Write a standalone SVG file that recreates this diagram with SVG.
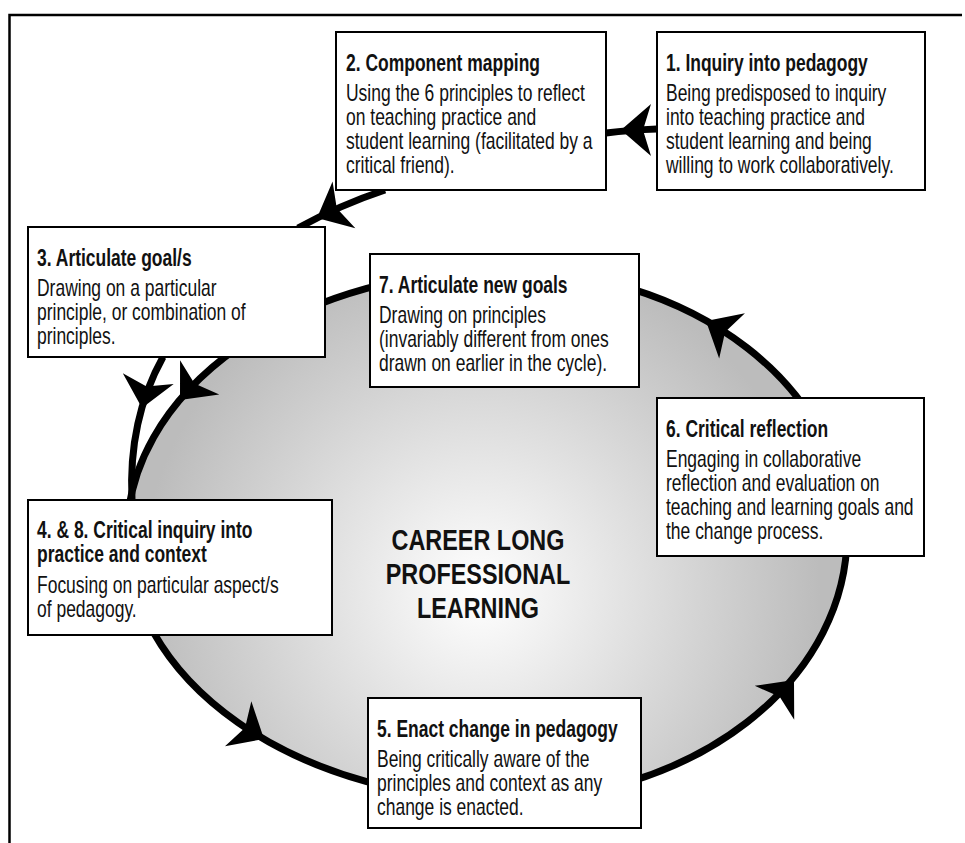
<svg xmlns="http://www.w3.org/2000/svg" xmlns:xlink="http://www.w3.org/1999/xlink" width="965" height="843" viewBox="0 0 965 843">
<style>
.box{fill:#fff;stroke:#000;stroke-width:2}
.t{font-family:"Liberation Sans",Arial,sans-serif;font-size:23px;fill:#111}
.b{font-weight:bold}
.c{font-family:"Liberation Sans",Arial,sans-serif;font-size:30px;font-weight:bold;fill:#111;text-anchor:middle}
.con{fill:none;stroke:#000;stroke-width:7}
.frame{stroke:#000;stroke-width:2.5;fill:none}
</style>
<defs>
<radialGradient id="g" gradientUnits="userSpaceOnUse" cx="480" cy="590" r="340">
<stop offset="0" stop-color="#ffffff"/>
<stop offset="0.12" stop-color="#f7f7f7"/>
<stop offset="1" stop-color="#bcbcbc"/>
</radialGradient>
<path id="ah" d="M0,0 L-30,-26 L-22,0 L-30,26 Z" fill="#000"/>
</defs>
<rect width="965" height="843" fill="#fff"/>
<g id="frame">
<path class="frame" d="M9.5,843 L9.5,15 L962,15"/>
</g>
<g id="cycle">
<path d="M505,270 A378,265 0 0 0 505,800 A342,265 0 0 0 505,270 Z" fill="url(#g)" stroke="#000" stroke-width="7"/>
<g transform="translate(478,0) scale(0.78,1)">
<text class="c" x="0" y="550">CAREER LONG</text>
<text class="c" x="0" y="584">PROFESSIONAL</text>
<text class="c" x="0" y="618">LEARNING</text>
</g>
</g>
<g id="connectors">
<path class="con" d="M657,129 Q630,130 606,133"/>
<path class="con" d="M385,190 Q340,205 298,228"/>
<path class="con" d="M163,357 Q128,420 132,500"/>
<use xlink:href="#ah" transform="translate(621,130) rotate(180)"/>
<use xlink:href="#ah" transform="translate(317,218) rotate(154)"/>
<use xlink:href="#ah" transform="translate(142,408) rotate(102)"/>
<use xlink:href="#ah" transform="translate(180,400) rotate(131)"/>
<use xlink:href="#ah" transform="translate(264,739) rotate(30.5)"/>
<use xlink:href="#ah" transform="translate(794,680) rotate(-49.4)"/>
<use xlink:href="#ah" transform="translate(706,321) rotate(209.7)"/>
</g>
<g id="n2">
<rect class="box" x="336" y="32" width="270" height="158"/>
<g transform="translate(346,0) scale(0.76,1)">
<text class="t b" x="0" y="71">2. Component mapping</text>
<text class="t" x="0" y="101">Using the 6 principles to reflect</text>
<text class="t" x="0" y="125">on teaching practice and</text>
<text class="t" x="0" y="149">student learning (facilitated by a</text>
<text class="t" x="0" y="173">critical friend).</text>
</g>
</g>
<g id="n1">
<rect class="box" x="657" y="32" width="268" height="158"/>
<g transform="translate(666,0) scale(0.76,1)">
<text class="t b" x="0" y="71">1. Inquiry into pedagogy</text>
<text class="t" x="0" y="101">Being predisposed to inquiry</text>
<text class="t" x="0" y="125">into teaching practice and</text>
<text class="t" x="0" y="149">student learning and being</text>
<text class="t" x="0" y="173">willing to work collaboratively.</text>
</g>
</g>
<g id="n3">
<rect class="box" x="28" y="227" width="297" height="130"/>
<g transform="translate(37,0) scale(0.76,1)">
<text class="t b" x="0" y="266">3. Articulate goal/s</text>
<text class="t" x="0" y="296">Drawing on a particular</text>
<text class="t" x="0" y="320">principle, or combination of</text>
<text class="t" x="0" y="344">principles.</text>
</g>
</g>
<g id="n7">
<rect class="box" x="370" y="254" width="269" height="133"/>
<g transform="translate(379,0) scale(0.76,1)">
<text class="t b" x="0" y="293">7. Articulate new goals</text>
<text class="t" x="0" y="323">Drawing on principles</text>
<text class="t" x="0" y="347">(invariably different from ones</text>
<text class="t" x="0" y="371">drawn on earlier in the cycle).</text>
</g>
</g>
<g id="n6">
<rect class="box" x="657" y="398" width="267" height="158"/>
<g transform="translate(666,0) scale(0.76,1)">
<text class="t b" x="0" y="437">6. Critical reflection</text>
<text class="t" x="0" y="467">Engaging in collaborative</text>
<text class="t" x="0" y="491">reflection and evaluation on</text>
<text class="t" x="0" y="515">teaching and learning goals and</text>
<text class="t" x="0" y="539">the change process.</text>
</g>
</g>
<g id="n4">
<rect class="box" x="28" y="500" width="304" height="135"/>
<g transform="translate(37,0) scale(0.76,1)">
<text class="t b" x="0" y="538">4. &amp; 8. Critical inquiry into</text>
<text class="t b" x="0" y="562">practice and context</text>
<text class="t" x="0" y="593">Focusing on particular aspect/s</text>
<text class="t" x="0" y="617">of pedagogy.</text>
</g>
</g>
<g id="n5">
<rect class="box" x="368" y="698" width="273" height="130"/>
<g transform="translate(377,0) scale(0.76,1)">
<text class="t b" x="0" y="737">5. Enact change in pedagogy</text>
<text class="t" x="0" y="767">Being critically aware of the</text>
<text class="t" x="0" y="791">principles and context as any</text>
<text class="t" x="0" y="815">change is enacted.</text>
</g>
</g>
</svg>
